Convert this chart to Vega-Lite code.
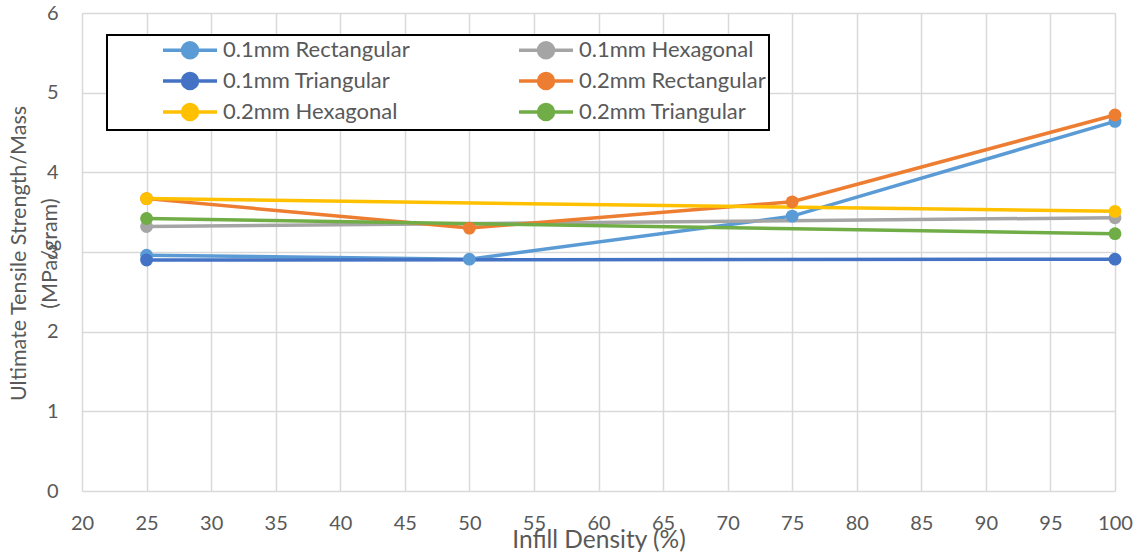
{
  "$schema": "https://vega.github.io/schema/vega-lite/v6.json",
  "width": 1033,
  "height": 478,
  "autosize": {"type": "none"},
  "padding": {"left": 82, "top": 13, "right": 30, "bottom": 67},
  "background": "white",
  "config": {
    "font": "Lato",
    "view": {"stroke": null},
    "axis": {
      "grid": true,
      "gridColor": "#d9d9d9",
      "gridWidth": 1.5,
      "domain": false,
      "ticks": false,
      "tickSize": 0,
      "labelColor": "#595959",
      "titleColor": "#595959",
      "labelFontSize": 20,
      "titleFontSize": 22,
      "titleFontWeight": "normal",
      "labelFont": "Lato",
      "titleFont": "Lato"
    }
  },
  "data": {
    "values": [
      {"density": 25, "series": "0.1mm Rectangular", "value": 2.96},
      {"density": 50, "series": "0.1mm Rectangular", "value": 2.91},
      {"density": 75, "series": "0.1mm Rectangular", "value": 3.45},
      {"density": 100, "series": "0.1mm Rectangular", "value": 4.64},
      {"density": 25, "series": "0.1mm Hexagonal", "value": 3.32},
      {"density": 100, "series": "0.1mm Hexagonal", "value": 3.43},
      {"density": 25, "series": "0.1mm Triangular", "value": 2.9},
      {"density": 100, "series": "0.1mm Triangular", "value": 2.91},
      {"density": 25, "series": "0.2mm Rectangular", "value": 3.67},
      {"density": 50, "series": "0.2mm Rectangular", "value": 3.3},
      {"density": 75, "series": "0.2mm Rectangular", "value": 3.63},
      {"density": 100, "series": "0.2mm Rectangular", "value": 4.72},
      {"density": 25, "series": "0.2mm Hexagonal", "value": 3.67},
      {"density": 100, "series": "0.2mm Hexagonal", "value": 3.51},
      {"density": 25, "series": "0.2mm Triangular", "value": 3.42},
      {"density": 100, "series": "0.2mm Triangular", "value": 3.23}
    ]
  },
  "encoding": {
    "x": {
      "field": "density",
      "type": "quantitative",
      "scale": {"domain": [20, 100], "nice": false},
      "axis": {
        "values": [20, 25, 30, 35, 40, 45, 50, 55, 60, 65, 70, 75, 80, 85, 90, 95, 100],
        "labelPadding": 22,
        "labelFlush": false,
        "labelOverlap": false,
        "title": "Infill Density (%)",
        "titleFontSize": 24.5,
        "titlePadding": -5
      }
    },
    "y": {
      "field": "value",
      "type": "quantitative",
      "scale": {"domain": [0, 6], "nice": false},
      "axis": {
        "values": [0, 1, 2, 3, 4, 5, 6],
        "labelPadding": 24,
        "labelFlush": false,
        "labelOverlap": false,
        "title": ["Ultimate Tensile Strength/Mass", "(MPa/gram)"],
        "titleFontSize": 21.5,
        "titleX": -74,
        "titleY": 240,
        "titleBaseline": "top",
        "titleAnchor": "middle",
        "titleAngle": -90,
        "titleLineHeight": 31
      }
    },
    "color": {
      "field": "series",
      "type": "nominal",
      "scale": {
        "domain": ["0.1mm Rectangular", "0.1mm Hexagonal", "0.1mm Triangular", "0.2mm Rectangular", "0.2mm Hexagonal", "0.2mm Triangular"],
        "range": ["#5B9BD5", "#A5A5A5", "#4472C4", "#ED7D31", "#FFC000", "#70AD47"]
      },
      "legend": {
        "title": null,
        "orient": "none",
        "legendX": 25,
        "legendY": 22,
        "columns": 2,
        "direction": "horizontal",
        "padding": 3,
        "strokeColor": "black",
        "fillColor": "white",
        "symbolType": "M-2.7,0L2.7,0M0.75,0A0.75,0.75,0,1,1,-0.75,0A0.75,0.75,0,1,1,0.75,0Z",
        "symbolSize": 400,
        "symbolStrokeWidth": 3.5,
        "symbolOffset": 68,
        "labelFontSize": 22,
        "labelColor": "#595959",
        "labelFont": "Lato",
        "labelOffset": 21,
        "labelLimit": 500,
        "rowPadding": 1,
        "columnPadding": 56,
        "encode": {
          "legend": {
            "update": {
              "strokeWidth": {"value": 2},
              "width": {"value": 704},
              "height": {"value": 90}
            }
          },
          "symbols": {
            "update": {
              "fill": {"scale": "color", "field": "value"},
              "stroke": {"scale": "color", "field": "value"},
              "opacity": {"value": 1}
            }
          }
        }
      }
    }
  },
  "layer": [
    {"mark": {"type": "line", "strokeWidth": 3.5}},
    {"mark": {"type": "circle", "size": 165, "opacity": 1}}
  ]
}
